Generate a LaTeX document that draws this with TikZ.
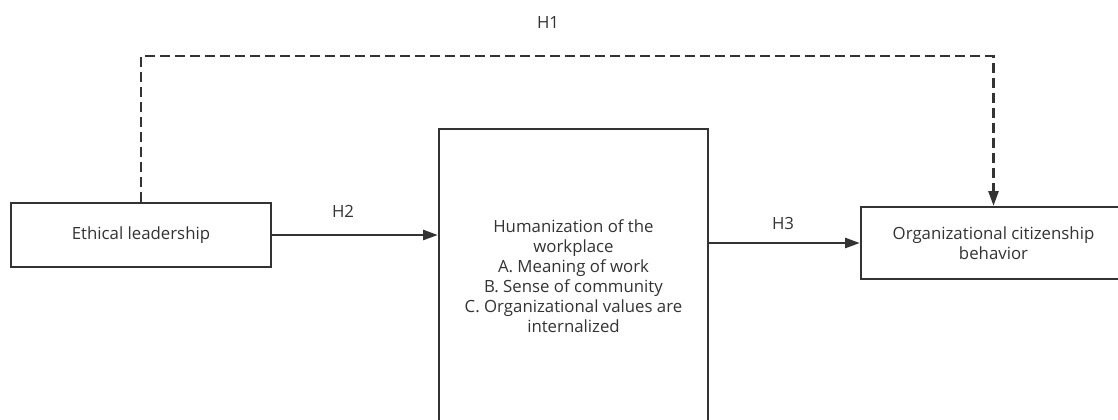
\documentclass[tikz,border=0pt]{standalone}
\usepackage{fontspec}
\setmainfont{Open Sans}
\usepackage{xcolor}
\usepackage{tikz}
\usetikzlibrary{arrows.meta,positioning,calc}
\definecolor{ink}{HTML}{333333}

\begin{document}
\begin{tikzpicture}[x=0.75pt, y=-0.75pt,
  font=\fontsize{12.6}{15}\selectfont, text=ink,
  box/.style={draw=ink, line width=1.8pt, fill=white, align=center, inner sep=0pt},
  link/.style={draw=ink, line width=1.8pt, -{Triangle[length=11pt,width=7.5pt]}},
  dashlink/.style={link, dash pattern=on 7.5pt off 3.75pt}]
\useasboundingbox (0,0) rectangle (1118,419);
\clip (0,0) rectangle (1118,419);
\node[box, minimum width=195pt, minimum height=48pt] (ethical) at (141,235)
  {Ethical leadership};
\node[box, minimum width=201.75pt, minimum height=220.5pt] (human) at (573.5,276)
  {Humanization of the\\ workplace\\ A. Meaning of work\\ B. Sense of community\\
   C. Organizational values are\\ internalized};
\node[box, minimum width=198.75pt, minimum height=54pt] (ocb) at (993.5,243)
  {Organizational citizenship\\ behavior};
\coordinate (top) at (0,56);
\draw[link] (ethical.east) -- (human.west |- ethical.east);
\draw[link] (human.east |- ocb.west) -- (ocb.west);
\draw[dashlink] (ethical.north) -- (ethical.north |- top) -| (ocb.north);
\node (h1) at (548,22) {H1};
\node (h2) at (343,211) {H2};
\node (h3) at (783,223) {H3};
\end{tikzpicture}
\end{document}
